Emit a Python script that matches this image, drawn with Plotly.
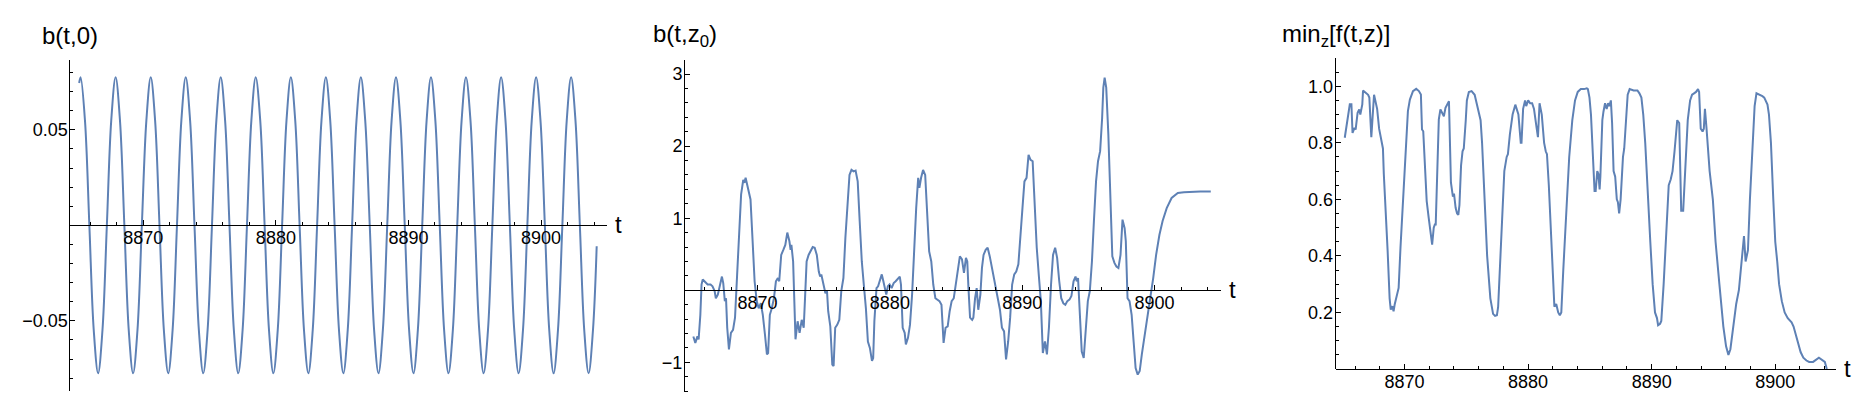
import plotly.graph_objects as go

# ---------------- data ----------------
# Panel 1: b(t,0)
t1 = [8865.16,
      8865.27, 8865.60, 8865.93, 8866.26, 8866.59, 8866.92, 8867.25, 8867.58,
      8867.91, 8868.24, 8868.57, 8868.90, 8869.23, 8869.56, 8869.89, 8870.23,
      8870.56, 8870.89, 8871.22, 8871.55, 8871.88, 8872.21, 8872.54, 8872.87,
      8873.20, 8873.53, 8873.86, 8874.19, 8874.52, 8874.85, 8875.18, 8875.51,
      8875.84, 8876.17, 8876.50, 8876.83, 8877.16, 8877.49, 8877.82, 8878.15,
      8878.48, 8878.82, 8879.15, 8879.48, 8879.81, 8880.14, 8880.47, 8880.80,
      8881.13, 8881.46, 8881.79, 8882.12, 8882.45, 8882.78, 8883.11, 8883.44,
      8883.77, 8884.10, 8884.43, 8884.76, 8885.09, 8885.42, 8885.75, 8886.08,
      8886.41, 8886.74, 8887.08, 8887.41, 8887.74, 8888.07, 8888.40, 8888.73,
      8889.06, 8889.39, 8889.72, 8890.05, 8890.38, 8890.71, 8891.04, 8891.37,
      8891.70, 8892.03, 8892.36, 8892.69, 8893.02, 8893.35, 8893.68, 8894.01,
      8894.34, 8894.68, 8895.01, 8895.34, 8895.67, 8896.00, 8896.33, 8896.66,
      8896.99, 8897.32, 8897.65, 8897.98, 8898.31, 8898.64, 8898.97, 8899.30,
      8899.63, 8899.96, 8900.29, 8900.62, 8900.95, 8901.28, 8901.61, 8901.94,
      8902.27, 8902.60, 8902.93, 8903.26, 8903.59, 8903.92, 8904.20]
b1 = [0.0745,
      0.0775, 0.0548, 0.0, -0.0548, -0.0775, -0.0548, 0.0, 0.0548,
      0.0775, 0.0548, 0.0, -0.0548, -0.0775, -0.0548, 0.0, 0.0548,
      0.0775, 0.0548, 0.0, -0.0548, -0.0775, -0.0548, 0.0, 0.0548,
      0.0775, 0.0548, 0.0, -0.0548, -0.0775, -0.0548, 0.0, 0.0548,
      0.0775, 0.0548, 0.0, -0.0548, -0.0775, -0.0548, 0.0, 0.0548,
      0.0775, 0.0548, 0.0, -0.0548, -0.0775, -0.0548, 0.0, 0.0548,
      0.0775, 0.0548, 0.0, -0.0548, -0.0775, -0.0548, 0.0, 0.0548,
      0.0775, 0.0548, 0.0, -0.0548, -0.0775, -0.0548, 0.0, 0.0548,
      0.0775, 0.0548, 0.0, -0.0548, -0.0775, -0.0548, 0.0, 0.0548,
      0.0775, 0.0548, 0.0, -0.0548, -0.0775, -0.0548, 0.0, 0.0548,
      0.0775, 0.0548, 0.0, -0.0548, -0.0775, -0.0548, 0.0, 0.0548,
      0.0775, 0.0548, 0.0, -0.0548, -0.0775, -0.0548, 0.0, 0.0548,
      0.0775, 0.0548, 0.0, -0.0548, -0.0775, -0.0548, 0.0, 0.0548,
      0.0775, 0.0548, 0.0, -0.0548, -0.0775, -0.0548, 0.0, 0.0548,
      0.0775, 0.0548, 0.0, -0.0548, -0.0775, -0.0548, -0.011]

# Panel 2: b(t,z0)
t2 = [8865.15, 8865.30, 8865.46, 8865.55, 8865.68, 8865.77, 8865.86, 8866.01, 8866.23, 8866.45,
      8866.60, 8866.76, 8866.85, 8867.00, 8867.16, 8867.31, 8867.41, 8867.53, 8867.62, 8867.71,
      8867.84, 8867.99, 8868.15, 8868.30, 8868.46, 8868.61, 8868.76, 8868.92, 8869.01, 8869.10,
      8869.20, 8869.32, 8869.47, 8869.63, 8869.78, 8869.94, 8870.09, 8870.25, 8870.40, 8870.56,
      8870.71, 8870.80, 8870.93, 8871.08, 8871.24, 8871.39, 8871.54, 8871.64, 8871.79, 8871.95,
      8872.10, 8872.25, 8872.41, 8872.50, 8872.56, 8872.69, 8872.78, 8872.87, 8873.03, 8873.18,
      8873.34, 8873.49, 8873.58, 8873.71, 8873.86, 8874.02, 8874.17, 8874.32, 8874.48, 8874.63,
      8874.73, 8874.82, 8874.97, 8875.13, 8875.25, 8875.34, 8875.50, 8875.65, 8875.75, 8875.87,
      8876.02, 8876.18, 8876.33, 8876.49, 8876.64, 8876.80, 8876.95, 8877.10, 8877.26, 8877.41,
      8877.57, 8877.72, 8877.88, 8878.03, 8878.19, 8878.34, 8878.49, 8878.65, 8878.74, 8878.83,
      8878.99, 8879.11, 8879.27, 8879.39, 8879.51, 8879.61, 8879.73, 8879.85, 8879.98, 8880.13,
      8880.29, 8880.44, 8880.59, 8880.75, 8880.84, 8880.97, 8881.12, 8881.21, 8881.37, 8881.52,
      8881.68, 8881.83, 8881.99, 8882.14, 8882.23, 8882.36, 8882.51, 8882.67, 8882.82, 8882.97,
      8883.13, 8883.28, 8883.44, 8883.59, 8883.75, 8883.90, 8884.06, 8884.21, 8884.37, 8884.52,
      8884.67, 8884.83, 8884.98, 8885.14, 8885.29, 8885.45, 8885.60, 8885.75, 8885.85, 8885.94,
      8886.06, 8886.22, 8886.31, 8886.44, 8886.56, 8886.68, 8886.84, 8886.96, 8887.08, 8887.24,
      8887.39, 8887.55, 8887.70, 8887.85, 8888.01, 8888.16, 8888.32, 8888.47, 8888.63, 8888.78,
      8888.94, 8889.09, 8889.24, 8889.40, 8889.55, 8889.71, 8889.86, 8890.02, 8890.17, 8890.33,
      8890.48, 8890.63, 8890.79, 8890.94, 8891.10, 8891.25, 8891.41, 8891.56, 8891.72, 8891.87,
      8892.02, 8892.18, 8892.33, 8892.49, 8892.64, 8892.80, 8892.95, 8893.11, 8893.26, 8893.41,
      8893.57, 8893.72, 8893.88, 8894.03, 8894.12, 8894.22, 8894.34, 8894.50, 8894.65, 8894.80,
      8894.96, 8895.11, 8895.27, 8895.42, 8895.58, 8895.73, 8895.89, 8896.04, 8896.13, 8896.23,
      8896.35, 8896.51, 8896.66, 8896.81, 8896.97, 8897.12, 8897.27, 8897.43, 8897.58, 8897.74,
      8897.83, 8897.96, 8898.11, 8898.27, 8898.42, 8898.57, 8898.73, 8898.88, 8899.04, 8899.19,
      8899.44, 8899.69, 8899.90, 8900.12, 8900.37, 8900.61, 8900.92, 8901.29, 8901.76, 8902.22,
      8902.84, 8903.46, 8904.25]
b2 = [-0.64, -0.73, -0.64, -0.68, -0.34, 0.08, 0.15, 0.125, 0.08, 0.08,
      0.055, -0.01, -0.11, -0.06, 0.08, 0.19, 0.10, -0.15, -0.11, -0.52,
      -0.82, -0.59, -0.55, -0.38, 0.22, 0.77, 1.33, 1.53, 1.49, 1.56,
      1.47, 1.40, 1.26, 0.68, 0.125, -0.15, -0.25, -0.18, -0.34, -0.61,
      -0.89, -0.87, -0.34, -0.25, -0.11, 0.125, 0.17, 0.125, 0.49, 0.56,
      0.63, 0.80, 0.68, 0.56, 0.63, 0.40, -0.15, -0.68, -0.43, -0.59,
      -0.41, -0.52, -0.15, 0.40, 0.49, 0.54, 0.60, 0.59, 0.49, 0.26,
      0.19, 0.22, 0.08, -0.04, -0.01, -0.29, -0.50, -1.03, -1.05, -0.52,
      -0.48, -0.41, -0.01, 0.17, 0.73, 1.23, 1.60, 1.67, 1.65, 1.66,
      1.51, 0.96, 0.40, 0.08, -0.25, -0.71, -0.80, -0.98, -0.94, -0.43,
      0.03, 0.055, 0.15, 0.22, 0.125, 0.055, -0.06, 0.055, 0.08, 0.03,
      0.10, 0.125, 0.15, 0.19, 0.08, -0.52, -0.59, -0.75, -0.66, -0.48,
      -0.06, 0.59, 1.14, 1.56, 1.42, 1.56, 1.67, 1.60, 1.14, 0.54,
      0.40, 0.08, -0.11, -0.13, -0.15, -0.20, -0.73, -0.52, -0.50, -0.29,
      -0.15, -0.11, 0.08, 0.22, 0.47, 0.43, 0.24, 0.45, 0.40, 0.03,
      -0.38, -0.41, -0.38, -0.11, 0.03, -0.27, -0.06, 0.31, 0.49, 0.56,
      0.59, 0.47, 0.33, 0.17, -0.01, -0.15, -0.27, -0.52, -0.57, -0.96,
      -0.71, -0.38, 0.08, 0.22, 0.26, 0.36, 0.68, 1.14, 1.51, 1.56,
      1.88, 1.81, 1.79, 1.14, 0.59, 0.22, -0.15, -0.87, -0.71, -0.89,
      -0.52, 0.08, 0.49, 0.59, 0.45, 0.125, -0.11, -0.18, -0.20, -0.15,
      -0.13, -0.08, 0.125, 0.19, 0.125, 0.17, -0.25, -0.85, -0.94, -0.52,
      -0.15, -0.01, 0.40, 0.96, 1.51, 1.79, 1.93, 2.39, 2.81, 2.95,
      2.81, 2.16, 1.23, 0.47, 0.38, 0.33, 0.31, 0.49, 0.98, 0.86,
      0.68, -0.11, -0.15, -0.34, -0.71, -1.08, -1.17, -1.12, -0.89, -0.71,
      -0.43, -0.11, 0.17, 0.49, 0.77, 0.96, 1.14, 1.28, 1.35, 1.36,
      1.37, 1.37, 1.37]

# Panel 3: min_z[f(t,z)]
t3 = [8865.17, 8865.58, 8865.71, 8865.80, 8865.96, 8866.05, 8866.21, 8866.34, 8866.43, 8866.59,
      8866.65, 8867.06, 8867.16, 8867.32, 8867.54, 8867.79, 8867.95, 8868.17, 8868.26, 8868.33,
      8868.48, 8868.64, 8868.80, 8868.89, 8869.02, 8869.12, 8869.21, 8869.37, 8869.53, 8869.68,
      8869.91, 8870.13, 8870.28, 8870.44, 8870.69, 8870.95, 8871.17, 8871.33, 8871.42, 8871.52,
      8871.64, 8871.80, 8871.96, 8872.12, 8872.24, 8872.37, 8872.46, 8872.53, 8872.65, 8872.78,
      8872.91, 8873.06, 8873.19, 8873.32, 8873.44, 8873.60, 8873.76, 8873.92, 8874.01, 8874.14,
      8874.26, 8874.36, 8874.45, 8874.58, 8874.70, 8874.80, 8874.96, 8875.05, 8875.21, 8875.43,
      8875.68, 8875.84, 8876.00, 8876.16, 8876.28, 8876.47, 8876.69, 8876.95, 8877.17, 8877.33,
      8877.48, 8877.58, 8877.70, 8877.86, 8878.08, 8878.27, 8878.37, 8878.53, 8878.75, 8878.97,
      8879.22, 8879.41, 8879.47, 8879.60, 8879.76, 8879.85, 8880.01, 8880.17, 8880.33, 8880.48,
      8880.58, 8880.70, 8880.80, 8880.86, 8880.93, 8881.11, 8881.30, 8881.43, 8881.53, 8881.68,
      8881.87, 8882.00, 8882.13, 8882.28, 8882.44, 8882.57, 8882.69, 8882.85, 8883.07, 8883.33,
      8883.58, 8883.80, 8884.02, 8884.27, 8884.53, 8884.75, 8884.84, 8884.97, 8885.09, 8885.19,
      8885.28, 8885.38, 8885.47, 8885.60, 8885.69, 8885.79, 8885.85, 8886.01, 8886.10, 8886.23,
      8886.36, 8886.48, 8886.58, 8886.70, 8886.80, 8886.92, 8887.05, 8887.18, 8887.27, 8887.37,
      8887.49, 8887.68, 8887.78, 8887.90, 8888.06, 8888.22, 8888.54, 8888.85, 8889.01, 8889.17,
      8889.32, 8889.48, 8889.64, 8889.89, 8890.08, 8890.27, 8890.43, 8890.52, 8890.68, 8890.78,
      8890.97, 8891.16, 8891.38, 8891.54, 8891.69, 8891.85, 8892.07, 8892.23, 8892.39, 8892.55,
      8892.74, 8892.92, 8893.11, 8893.27, 8893.43, 8893.59, 8893.75, 8893.84, 8893.97, 8894.12,
      8894.22, 8894.31, 8894.44, 8894.57, 8894.69, 8894.95, 8895.17, 8895.48, 8895.80, 8896.02,
      8896.21, 8896.37, 8896.59, 8896.84, 8897.06, 8897.22, 8897.47, 8897.60, 8897.69, 8897.79,
      8897.95, 8898.17, 8898.33, 8898.48, 8898.74, 8898.96, 8899.11, 8899.37, 8899.49, 8899.65,
      8899.84, 8900.00, 8900.16, 8900.31, 8900.53, 8900.76, 8901.01, 8901.32, 8901.48, 8901.80,
      8902.05, 8902.27, 8902.52, 8902.74, 8903.06, 8903.53, 8903.79, 8904.01, 8904.17]
f3 = [0.818, 0.936, 0.936, 0.835, 0.853, 0.847, 0.906, 0.918, 0.900, 0.936,
      0.985, 0.970, 0.960, 0.820, 0.970, 0.920, 0.850, 0.790, 0.780, 0.690,
      0.570, 0.417, 0.250, 0.210, 0.222, 0.204, 0.228, 0.263, 0.287, 0.430,
      0.617, 0.782, 0.912, 0.953, 0.983, 0.991, 0.983, 0.971, 0.847, 0.841,
      0.712, 0.594, 0.535, 0.476, 0.440, 0.500, 0.511, 0.511, 0.723, 0.883,
      0.918, 0.906, 0.894, 0.924, 0.936, 0.947, 0.660, 0.610, 0.620, 0.570,
      0.550, 0.545, 0.580, 0.720, 0.770, 0.780, 0.880, 0.950, 0.980, 0.983,
      0.970, 0.940, 0.900, 0.880, 0.800, 0.600, 0.400, 0.250, 0.195, 0.188,
      0.190, 0.220, 0.350, 0.500, 0.700, 0.750, 0.760, 0.830, 0.900, 0.935,
      0.900, 0.800, 0.800, 0.920, 0.950, 0.930, 0.950, 0.940, 0.940, 0.920,
      0.880, 0.850, 0.820, 0.870, 0.940, 0.900, 0.800, 0.770, 0.760, 0.650,
      0.450, 0.300, 0.220, 0.230, 0.200, 0.190, 0.200, 0.350, 0.550, 0.750,
      0.880, 0.950, 0.980, 0.990, 0.990, 0.993, 0.990, 0.960, 0.900, 0.800,
      0.680, 0.630, 0.630, 0.700, 0.690, 0.635, 0.680, 0.880, 0.910, 0.940,
      0.920, 0.940, 0.930, 0.950, 0.870, 0.700, 0.680, 0.600, 0.590, 0.550,
      0.600, 0.750, 0.780, 0.860, 0.970, 0.990, 0.985, 0.985, 0.975, 0.960,
      0.900, 0.800, 0.650, 0.450, 0.300, 0.200, 0.180, 0.155, 0.160, 0.170,
      0.300, 0.450, 0.650, 0.670, 0.700, 0.770, 0.880, 0.870, 0.560, 0.560,
      0.750, 0.880, 0.950, 0.970, 0.975, 0.980, 0.990, 0.980, 0.850, 0.840,
      0.850, 0.920, 0.850, 0.780, 0.700, 0.600, 0.450, 0.300, 0.150, 0.080,
      0.050, 0.070, 0.150, 0.230, 0.280, 0.350, 0.470, 0.380, 0.400, 0.420,
      0.600, 0.800, 0.930, 0.975, 0.970, 0.965, 0.960, 0.935, 0.900, 0.800,
      0.600, 0.450, 0.380, 0.300, 0.240, 0.200, 0.180, 0.165, 0.150, 0.100,
      0.060, 0.040, 0.030, 0.025, 0.025, 0.040, 0.030, 0.025, 0.000]

# tick labels
x_tickvals = [8870, 8880, 8890, 8900]
x_ticktext = ["8870", "8880", "8890", "8900"]
y1_tickvals = [-0.05, 0.05]
y1_ticktext = ["\u22120.05", "0.05"]
y2_tickvals = [-1, 1, 2, 3]
y2_ticktext = ["\u22121", "1", "2", "3"]
y3_tickvals = [0.2, 0.4, 0.6, 0.8, 1.0]
y3_ticktext = ["0.2", "0.4", "0.6", "0.8", "1.0"]

titles = ["b(t,0)", "b(t,z<sub>0</sub>)", "min<sub>z</sub>[f(t,z)]"]
axis_label = "t"

# ---------------- layout (pixel geometry) ----------------
W, H = 1872, 401
BLUE = "#5E81B5"
FONT = "Liberation Sans, Arial, Helvetica, sans-serif"
AX = "#000000"


def fx(px):
    return px / W


def fy(py):
    return 1 - py / H


panels = [
    # x-pixels, x-range, y-pixels (top, bottom), y-range
    dict(xp=(62.4, 599.3), xr=(8864.5, 8905.0), yp=(51.7, 383.3), yr=(-0.0869, 0.0867),
         yt=(y1_tickvals, y1_ticktext), ymin=0.01),
    dict(xp=(677.0, 1212.7), xr=(8864.52, 8905.0), yp=(52.3, 384.3), yr=(-1.415, 3.19),
         yt=(y2_tickvals, y2_ticktext), ymin=0.2),
    dict(xp=(1327.6, 1828.2), xr=(8864.43, 8904.93), yp=(50.0, 361.0), yr=(0.0, 1.1),
         yt=(y3_tickvals, y3_ticktext), ymin=0.05),
]

series = [(t1, b1, "spline"), (t2, b2, "linear"), (t3, f3, "linear")]

fig = go.Figure()
annotations = []
layout = {}
for i, (p, (tx, ty, shape)) in enumerate(zip(panels, series)):
    n = "" if i == 0 else str(i + 1)
    line = dict(color=BLUE, width=2, shape=shape)
    if shape == "spline":
        line["smoothing"] = 1.0
    fig.add_trace(go.Scatter(x=tx, y=ty, mode="lines", line=line,
                             xaxis="x" + n, yaxis="y" + n, showlegend=False,
                             hoverinfo="skip"))
    ytop, ybot = p["yp"]
    y0, y1 = p["yr"]
    # pixel row of the value 0 (where Mathematica draws the t axis)
    zero_py = ybot - (0 - y0) / (y1 - y0) * (ybot - ytop)
    layout["xaxis" + n] = dict(
        domain=[fx(p["xp"][0]), fx(p["xp"][1])], range=list(p["xr"]),
        anchor="free", position=fy(zero_py),
        showline=True, linecolor=AX, linewidth=1,
        ticks="inside", ticklen=5, tickwidth=1, tickcolor=AX,
        tickmode="array", tickvals=x_tickvals, ticktext=x_ticktext,
        ticklabelstandoff=-4,
        minor=dict(tickmode="linear", tick0=8870, dtick=2, ticks="inside",
                   ticklen=3, tickwidth=1, tickcolor=AX, showgrid=False),
        showgrid=False, zeroline=False,
        tickfont=dict(family=FONT, size=18, color="black"),
    )
    layout["yaxis" + n] = dict(
        domain=[fy(ybot), fy(ytop)], range=list(p["yr"]),
        anchor="x" + n,
        showline=True, linecolor=AX, linewidth=1,
        ticks="inside", ticklen=5, tickwidth=1, tickcolor=AX,
        tickmode="array", tickvals=p["yt"][0], ticktext=p["yt"][1],
        ticklabelstandoff=-2,
        minor=dict(tickmode="linear", tick0=0, dtick=p["ymin"], ticks="inside",
                   ticklen=3, tickwidth=1, tickcolor=AX, showgrid=False),
        showgrid=False, zeroline=False,
        tickfont=dict(family=FONT, size=18, color="black"),
    )
    # y-axis title centred above the axis
    annotations.append(dict(text=titles[i], x=fx(p["xp"][0]), y=fy(27),
                            xref="paper", yref="paper", xanchor="center",
                            yanchor="middle", showarrow=False,
                            font=dict(family=FONT, size=24, color="black")))
    # t label at the right end of the horizontal axis
    annotations.append(dict(text=axis_label, x=fx(p["xp"][1] + 11.5), y=fy(zero_py - 1),
                            xref="paper", yref="paper", xanchor="center",
                            yanchor="middle", showarrow=False,
                            font=dict(family=FONT, size=24, color="black")))

fig.update_layout(
    width=W, height=H, autosize=False,
    margin=dict(l=0, r=0, t=0, b=0),
    paper_bgcolor="white", plot_bgcolor="white",
    annotations=annotations,
    **layout,
)

fig.write_html("out.html")
